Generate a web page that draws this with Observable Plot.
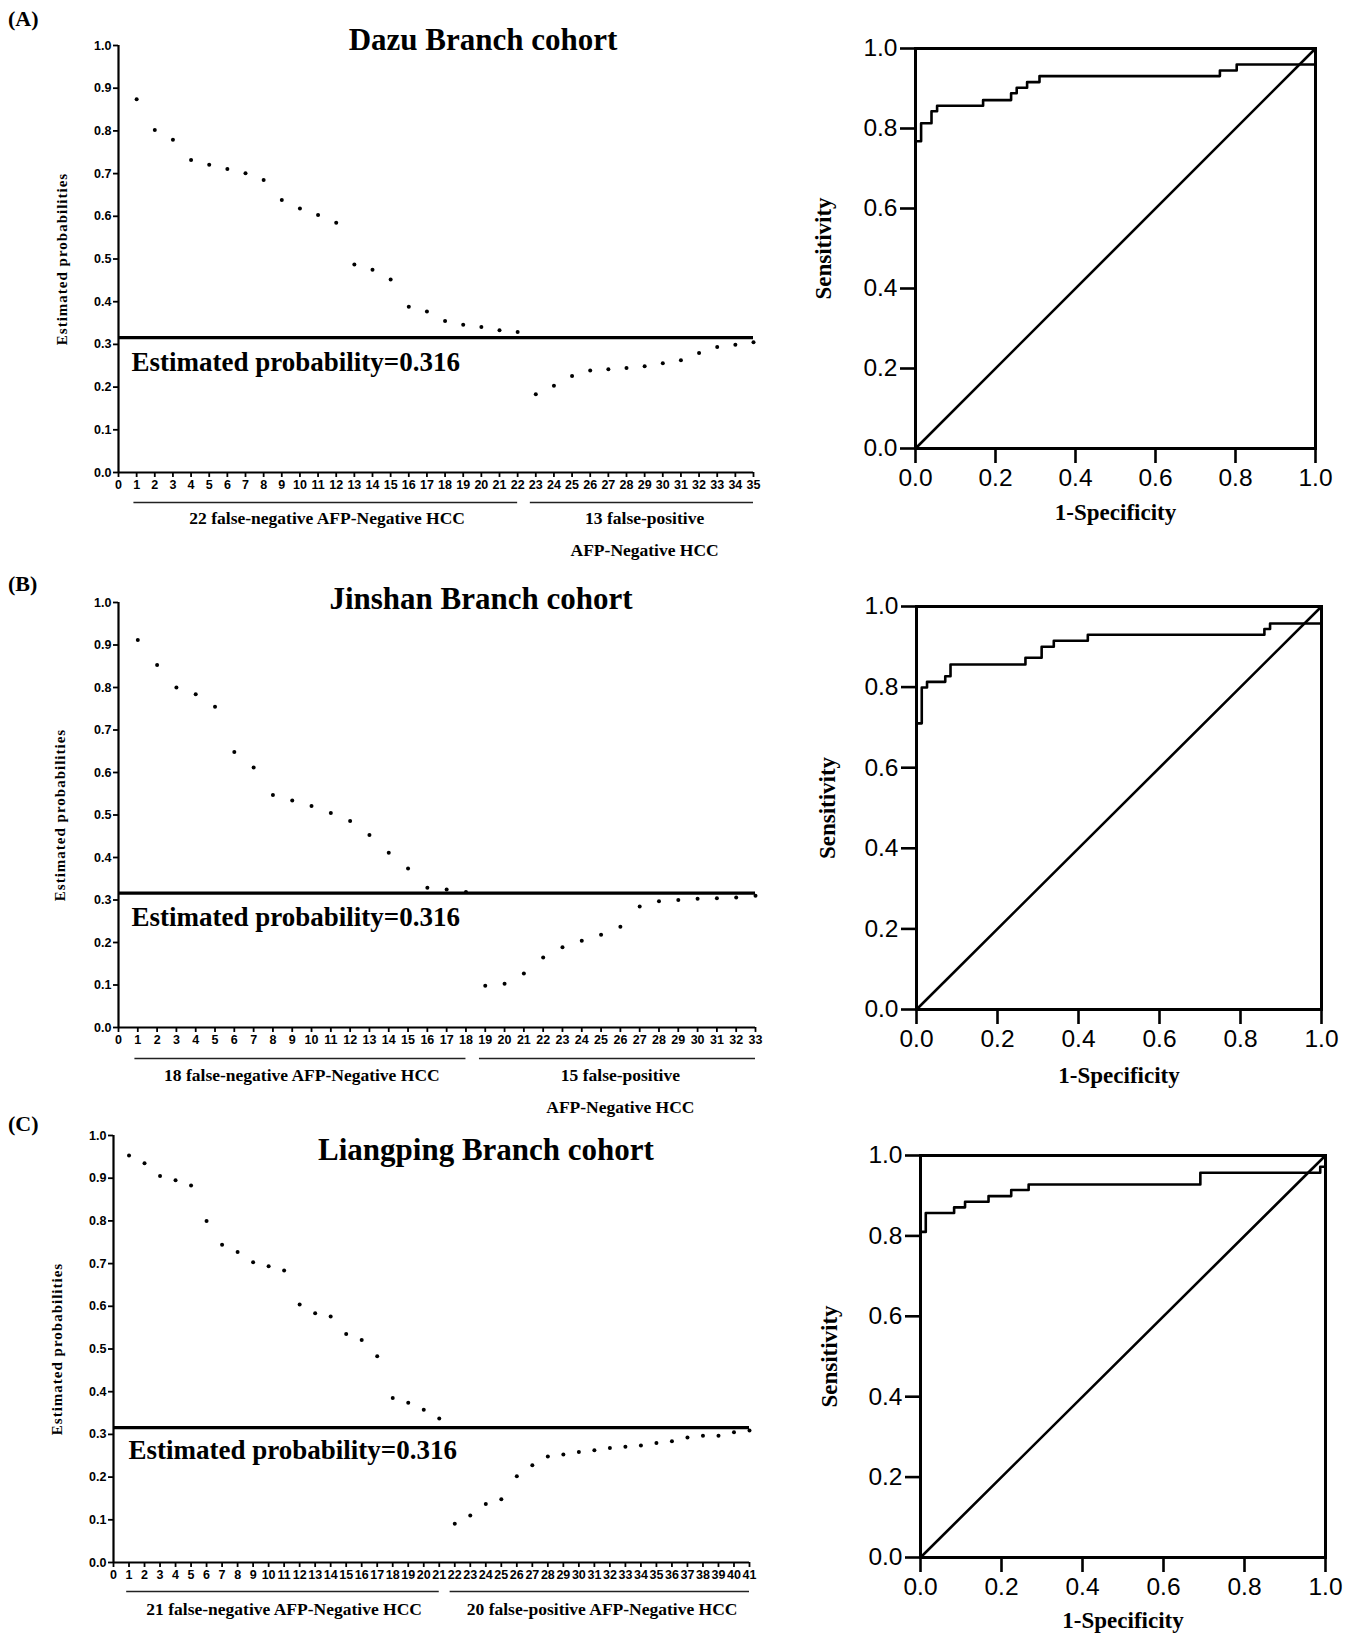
<!DOCTYPE html>
<html>
<head>
<meta charset="utf-8">
<script src="https://cdn.jsdelivr.net/npm/d3@7"></script>
<script src="https://cdn.jsdelivr.net/npm/@observablehq/plot@0.6"></script>
<style>
  body { margin: 0; background: #fff; }
  #root { position: relative; width: 1355px; height: 1636px; background: #fff; overflow: hidden; }
  .abs { position: absolute; }
  .abs svg { overflow: visible; }
  .panel-letter { font-family: "Liberation Serif", "Times New Roman", serif; font-weight: bold; font-size: 22px; color: #000; transform: translateY(-50%); }
  .title { font-family: "Liberation Serif", "Times New Roman", serif; font-weight: bold; font-size: 31px; color: #000; transform: translate(-50%, -50%); white-space: nowrap; }
</style>
</head>
<body>
<div id="root"></div>
<script>
// ---------------- data ----------------
const cohorts = ["Dazu Branch cohort", "Jinshan Branch cohort", "Liangping Branch cohort"];
const panelLetters = ["(A)", "(B)", "(C)"];
const threshold = 0.316;

// estimated probabilities (false-negative first, then false-positive)
const probsA = [0.874, 0.802, 0.779, 0.732, 0.721, 0.711, 0.701, 0.685, 0.638, 0.618, 0.603, 0.585,
  0.487, 0.475, 0.452, 0.388, 0.377, 0.355, 0.346, 0.341, 0.333, 0.329,
  0.183, 0.203, 0.226, 0.239, 0.242, 0.245, 0.249, 0.256, 0.263, 0.280, 0.294, 0.299, 0.305];
const probsB = [0.912, 0.853, 0.800, 0.784, 0.755, 0.648, 0.612, 0.547, 0.534, 0.521, 0.505, 0.486,
  0.453, 0.411, 0.374, 0.329, 0.325, 0.319,
  0.098, 0.103, 0.127, 0.165, 0.189, 0.204, 0.218, 0.237, 0.285, 0.297, 0.300, 0.303, 0.304, 0.306, 0.310];
const probsC = [0.953, 0.935, 0.905, 0.895, 0.883, 0.800, 0.744, 0.727, 0.703, 0.694, 0.684, 0.604,
  0.584, 0.576, 0.535, 0.521, 0.483, 0.385, 0.374, 0.358, 0.337,
  0.091, 0.110, 0.137, 0.148, 0.202, 0.228, 0.248, 0.253, 0.259, 0.263, 0.268, 0.271, 0.274, 0.280,
  0.284, 0.293, 0.297, 0.297, 0.305, 0.309];

const falseNegCounts = [22, 18, 21];
const groupLabelsA = ["22 false-negative AFP-Negative HCC", "13 false-positive\nAFP-Negative HCC"];
const groupLabelsB = ["18 false-negative AFP-Negative HCC", "15 false-positive\nAFP-Negative HCC"];
const groupLabelsC = ["21 false-negative AFP-Negative HCC", "20 false-positive AFP-Negative HCC"];

// ROC step vertices (1-specificity, sensitivity)
const rocFprA = [0, 0, 0.014, 0.040, 0.054, 0.169, 0.239, 0.253, 0.279, 0.310, 0.761, 0.803, 1, 1];
const rocTprA = [0, 0.768, 0.813, 0.843, 0.857, 0.871, 0.888, 0.902, 0.916, 0.931, 0.945, 0.960, 0.960, 1];
const rocFprB = [0, 0, 0.013, 0.026, 0.071, 0.084, 0.269, 0.309, 0.339, 0.423, 0.859, 0.873, 1, 1];
const rocTprB = [0, 0.710, 0.799, 0.813, 0.827, 0.856, 0.873, 0.900, 0.915, 0.930, 0.944, 0.958, 0.958, 1];
const rocFprC = [0, 0, 0.013, 0.083, 0.110, 0.168, 0.224, 0.267, 0.691, 0.987, 1, 1];
const rocTprC = [0, 0.810, 0.857, 0.871, 0.885, 0.899, 0.914, 0.928, 0.957, 0.972, 0.972, 1];
const diagonal = [{x: 0, y: 0}, {x: 1, y: 1}];

const probTicks = d3.range(0, 11).map(d => d / 10);
const rocTicks = [0, 0.2, 0.4, 0.6, 0.8, 1.0];

// ---------------- layout ----------------
const serif = "'Liberation Serif', 'Times New Roman', serif";
const sans = "'Liberation Sans', Arial, sans-serif";

const leftLayout = [
  {left: 0, top: 0,    w: 780, h: 560, ml: 118, mr: 27, mt: 45, mb: 88, tdx: 13, tdy: 25, bdy: 30, ldy: 29, ydx: -56},
  {left: 0, top: 560,  w: 780, h: 560, ml: 118, mr: 25, mt: 42, mb: 93, tdx: 13, tdy: 24, bdy: 31, ldy: 31, ydx: -58},
  {left: 0, top: 1110, w: 780, h: 526, ml: 113, mr: 31, mt: 25, mb: 74, tdx: 15, tdy: 23, bdy: 29, ldy: 30, ydx: -56}
];
const rocLayout = [
  {left: 800, top: 0,    w: 555, h: 560, ml: 115, mr: 40, mt: 48, mb: 112, xl: 64, yl: -92},
  {left: 800, top: 560,  w: 555, h: 560, ml: 116, mr: 34, mt: 46, mb: 111, xl: 66, yl: -89},
  {left: 800, top: 1110, w: 555, h: 526, ml: 120, mr: 30, mt: 45, mb: 79,  xl: 63, yl: -91}
];
const titlePos = [{x: 483, y: 40}, {x: 481, y: 599}, {x: 486, y: 1150}];
const letterPos = [{x: 8, y: 19}, {x: 8, y: 584}, {x: 8, y: 1124}];

// ---------------- builders ----------------
function probPlot(probs, nNeg, labels, L) {
  const n = probs.length;
  const data = probs.map((p, i) => ({idx: i + 1, p}));
  const groups = [
    {x1: 0.85, x2: nNeg, mid: (1 + nNeg) / 2, label: labels[0]},
    {x1: nNeg + 0.7, x2: n, mid: (nNeg + 1 + n) / 2, label: labels[1]}
  ];
  const svg = Plot.plot({
    width: L.w, height: L.h,
    marginLeft: L.ml, marginRight: L.mr, marginTop: L.mt, marginBottom: L.mb,
    x: {domain: [0, n]},
    y: {domain: [0, 1]},
    style: {fontFamily: sans, fontSize: "12.5px", fontWeight: "bold", color: "#000", background: "transparent", overflow: "visible"},
    marks: [
      Plot.axisY({ticks: probTicks, tickFormat: d => d.toFixed(1), tickSize: 5, tickPadding: 2, strokeWidth: 1.8, label: null}),
      Plot.axisX({ticks: d3.range(0, n + 1), tickFormat: d => String(d), tickSize: 5, tickPadding: 3, strokeWidth: 1.8, label: null}),
      Plot.ruleX([0], {strokeWidth: 2.2}),
      Plot.ruleY([0], {strokeWidth: 2.2}),
      Plot.ruleY([threshold], {x1: 0, x2: n, strokeWidth: 3.2}),
      Plot.dot(data, {x: "idx", y: "p", r: 2, fill: "#000", stroke: null}),
      Plot.text([`Estimated probability=${threshold}`], {text: d => d, x: 0, y: threshold, dx: L.tdx, dy: L.tdy, textAnchor: "start", fontFamily: serif, fontSize: 27, fontWeight: "bold"}),
      Plot.ruleY(groups, {y: 0, x1: "x1", x2: "x2", dy: L.bdy, strokeWidth: 1.4, stroke: "#222"}),
      Plot.text(groups, {x: "mid", y: 0, text: "label", dy: L.ldy, lineAnchor: "top", lineHeight: 1.82, fontFamily: serif, fontSize: 17.5, fontWeight: "bold"}),
      Plot.text(["Estimated probabilities"], {text: d => d, frameAnchor: "left", dx: L.ydx, rotate: -90, textAnchor: "middle", lineAnchor: "middle", fontFamily: serif, fontSize: 15, fontWeight: "bold"})
    ]
  });
  d3.select(svg).selectAll("text").filter(function() { return this.textContent === "Estimated probabilities"; })
    .attr("letter-spacing", "1");
  return svg;
}

function rocPlot(fpr, tpr, L) {
  const data = fpr.map((f, i) => ({f, t: tpr[i]}));
  return Plot.plot({
    width: L.w, height: L.h,
    marginLeft: L.ml, marginRight: L.mr, marginTop: L.mt, marginBottom: L.mb,
    x: {domain: [0, 1]},
    y: {domain: [0, 1]},
    style: {fontFamily: sans, fontSize: "24.5px", color: "#000", background: "transparent", overflow: "visible"},
    marks: [
      Plot.axisX({ticks: rocTicks, tickFormat: d => d.toFixed(1), tickSize: 15, tickPadding: 5, strokeWidth: 2.6, label: null}),
      Plot.axisY({ticks: rocTicks, tickFormat: d => d.toFixed(1), tickSize: 15, tickPadding: 3, strokeWidth: 2.6, label: null}),
      Plot.frame({strokeWidth: 3}),
      Plot.line(diagonal, {x: "x", y: "y", strokeWidth: 2.6}),
      Plot.line(data, {x: "f", y: "t", curve: "step-after", strokeWidth: 2.6}),
      Plot.text(["1-Specificity"], {text: d => d, frameAnchor: "bottom", dy: L.xl, lineAnchor: "middle", fontFamily: serif, fontSize: 23, fontWeight: "bold"}),
      Plot.text(["Sensitivity"], {text: d => d, frameAnchor: "left", dx: L.yl, rotate: -90, textAnchor: "middle", lineAnchor: "middle", fontFamily: serif, fontSize: 23, fontWeight: "bold"})
    ]
  });
}

// ---------------- render ----------------
const root = document.getElementById("root");
function place(node, left, top) {
  const div = document.createElement("div");
  div.className = "abs";
  div.style.left = left + "px";
  div.style.top = top + "px";
  div.appendChild(node);
  root.appendChild(div);
}

const probsAll = [probsA, probsB, probsC];
const labelsAll = [groupLabelsA, groupLabelsB, groupLabelsC];
const rocAll = [[rocFprA, rocTprA], [rocFprB, rocTprB], [rocFprC, rocTprC]];

for (let k = 0; k < 3; k++) {
  const L = leftLayout[k];
  place(probPlot(probsAll[k], falseNegCounts[k], labelsAll[k], L), L.left, L.top);
  const R = rocLayout[k];
  place(rocPlot(rocAll[k][0], rocAll[k][1], R), R.left, R.top);

  const t = document.createElement("div");
  t.className = "abs title";
  t.style.left = titlePos[k].x + "px";
  t.style.top = titlePos[k].y + "px";
  t.textContent = cohorts[k];
  root.appendChild(t);

  const p = document.createElement("div");
  p.className = "abs panel-letter";
  p.style.left = letterPos[k].x + "px";
  p.style.top = letterPos[k].y + "px";
  p.textContent = panelLetters[k];
  root.appendChild(p);
}
</script>
</body>
</html>
